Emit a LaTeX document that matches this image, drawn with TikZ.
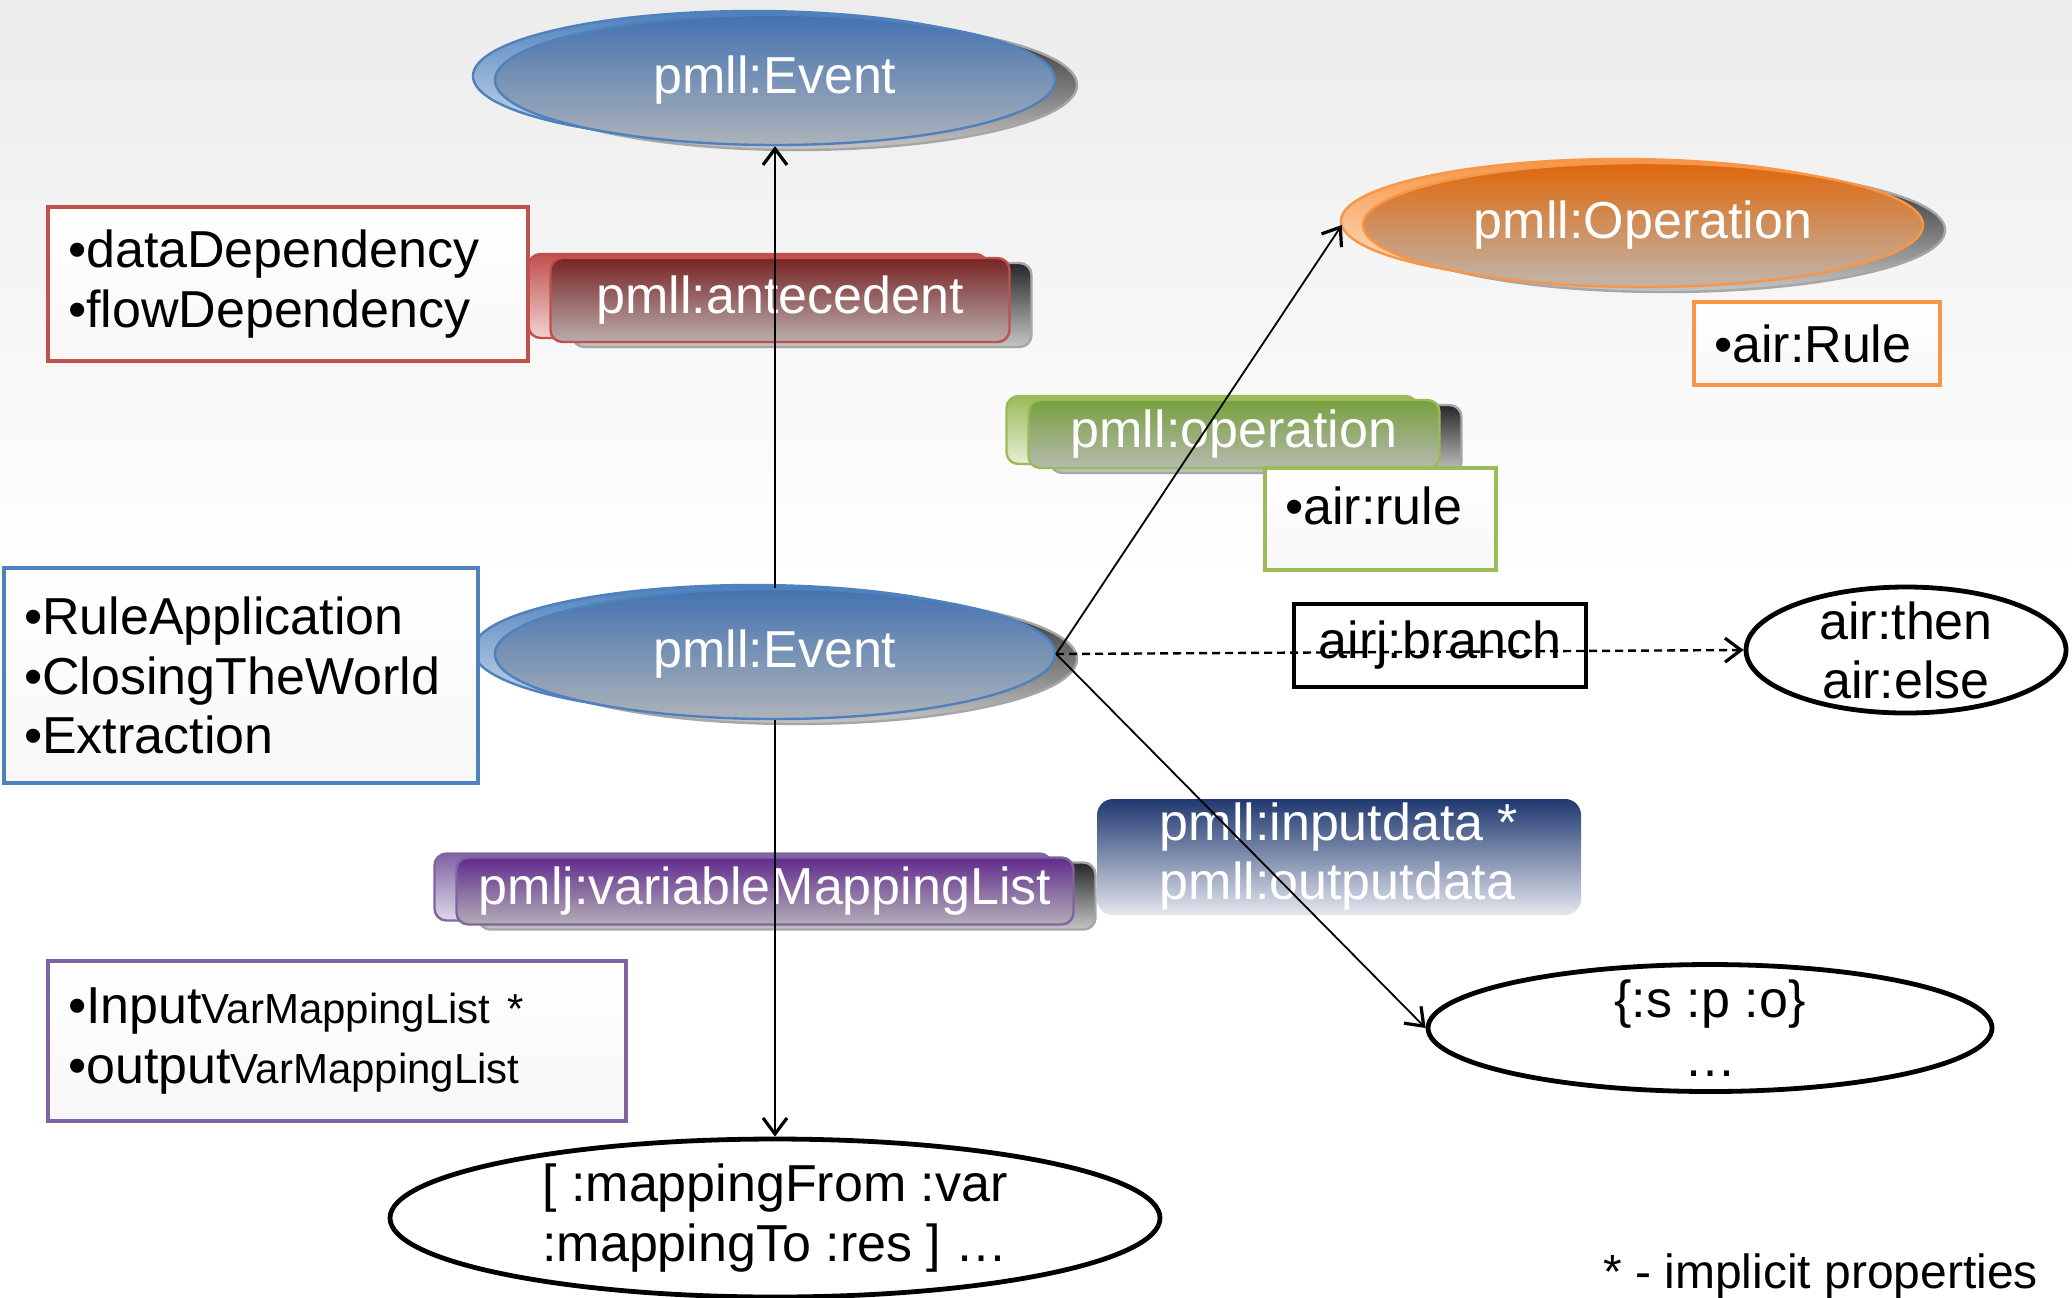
\documentclass[tikz,border=0pt]{standalone}
\usepackage{fontspec}
\setmainfont{Liberation Sans}
\usetikzlibrary{arrows.meta,shapes.geometric}

\definecolor{evblue}{RGB}{79,129,189}
\definecolor{evbluedk}{RGB}{68,114,176}
\definecolor{oporange}{RGB}{247,150,70}
\definecolor{oporangedk}{RGB}{222,104,12}
\definecolor{antred}{RGB}{192,80,77}
\definecolor{antreddk}{RGB}{120,36,36}
\definecolor{opgreen}{RGB}{155,187,89}
\definecolor{opgreendk}{RGB}{118,160,62}
\definecolor{vmlpurple}{RGB}{128,100,162}
\definecolor{vmlpurpledk}{RGB}{98,42,142}
\definecolor{ionavy}{RGB}{31,56,112}

\tikzset{
  base/.style={font=\fontsize{13}{14.8}\selectfont},
  glossy/.style 2 args={base,text=white,inner sep=0pt,line width=0.6pt,
    top color=#2,bottom color=#1!20!gray!60!white,draw=#1,
    preaction={draw=gray!70,top color=black!85,bottom color=gray!45,
      transform canvas={xshift=5.5pt,yshift=-1.25pt}},
    preaction={draw=#1,top color=#1,bottom color=#1!25!white,
      transform canvas={xshift=-5.5pt,yshift=1pt}}},
  itembox/.style={base,draw=#1,line width=1pt,top color=white,bottom color=gray!6,
    align=left,anchor=north west,inner xsep=5pt,inner ysep=0pt},
  valell/.style={base,ellipse,draw,line width=1.2pt,fill=white,inner sep=-5pt,align=center},
  branchbox/.style={base,draw,line width=1pt,minimum width=73pt,minimum height=20.75pt,inner sep=0pt},
  link/.style={line width=0.45pt,-{Straight Barb[length=4pt,width=6pt,line width=0.8pt]}},
}

\begin{document}
\begin{tikzpicture}[x=0.25pt,y=-0.25pt]
	% background
	\fill[white] (0,0) rectangle (2072,1297);
	\shade[top color=gray!15,bottom color=white] (0,0) rectangle (2072,580);
	\useasboundingbox (0,0) rectangle (2072,1297);

	% classes
	\node[glossy={evblue}{evbluedk},ellipse,minimum width=140pt,minimum height=32.5pt] (evtop) at (775,80) {pmll:Event};
	\node[glossy={evblue}{evbluedk},ellipse,minimum width=140pt,minimum height=32.5pt] (evmid) at (775,654) {pmll:Event};
	\node[glossy={oporange}{oporangedk},ellipse,minimum width=140pt,minimum height=31pt] (oper) at (1643,225) {pmll:Operation};

	% property tags
	\node[glossy={antred}{antreddk},rounded corners=3pt,minimum width=114.75pt,minimum height=21pt] (antecedent) at (780,300) {pmll:antecedent};
	\node[glossy={opgreen}{opgreendk},rounded corners=3pt,minimum width=102.75pt,minimum height=17pt] (opertag) at (1234,434) {pmll:operation};
	\node[glossy={vmlpurple}{vmlpurpledk},rounded corners=3pt,minimum width=154.25pt,minimum height=16.75pt] (vmltag) at (765,891) {pmlj:variableMappingList};
	\node[base,text=white,rounded corners=4pt,top color=ionavy,bottom color=ionavy!12!white,
		minimum width=121pt,minimum height=29pt,inner sep=0pt,align=left,text depth=3pt] (iotag) at (1339,857) {pmll:inputdata *\\pmll:outputdata};

	% subclasses and subproperties
	\node[itembox=antred,text width=110pt,minimum height=38.5pt] (deps) at (46,205) {•dataDependency\\•flowDependency};
	\node[itembox=evblue,text width=108.5pt,minimum height=53.75pt] (kinds) at (2,566) {•RuleApplication\\•ClosingTheWorld\\•Extraction};
	\node[itembox=oporange,text width=51.5pt,minimum height=20.75pt] (rulecls) at (1692,300) {•air:Rule};
	\node[itembox=opgreen,text width=47.75pt,text height=14pt,text depth=11.5pt] (ruleprop) at (1263,466) {•air:rule};
	\node[itembox=vmlpurple,text width=134.5pt,minimum height=40pt] (vmlkinds) at (46,959)
		{•Input{\fontsize{10.5}{12}\selectfont VarMappingList *}\\•output{\fontsize{10.5}{12}\selectfont VarMappingList}};

	% values
	\node[valell,minimum width=80pt,minimum height=31.5pt] (branches) at (1906,650) {air:then\\air:else};
	\node[valell,minimum width=141pt,minimum height=31.75pt] (triples) at (1710,1028) {\{:s :p :o\}\\…};
	\node[valell,minimum width=192.5pt,minimum height=39.5pt] (mapping) at (775,1218) {[ :mappingFrom :var\\:mappingTo :res ] …};
	\node[branchbox] (branchlbl) at (1440,645) {airj:branch};

	\node[base,font=\fontsize{12}{14}\selectfont,anchor=east] (note) at (2052,1276) {* - implicit properties};

	% connectors
	\draw[link] (evmid.north)--(evtop.south);
	\draw[link] (evmid.east)--([xshift=-5pt]oper.west);
	\draw[link,line width=0.6pt,dash pattern=on 2pt off 1.25pt] (evmid.east)--(branches.west);
	\draw[link] (evmid.east)--(triples.west);
	\draw[link] (evmid.south)--(mapping.north);
\end{tikzpicture}
\end{document}
